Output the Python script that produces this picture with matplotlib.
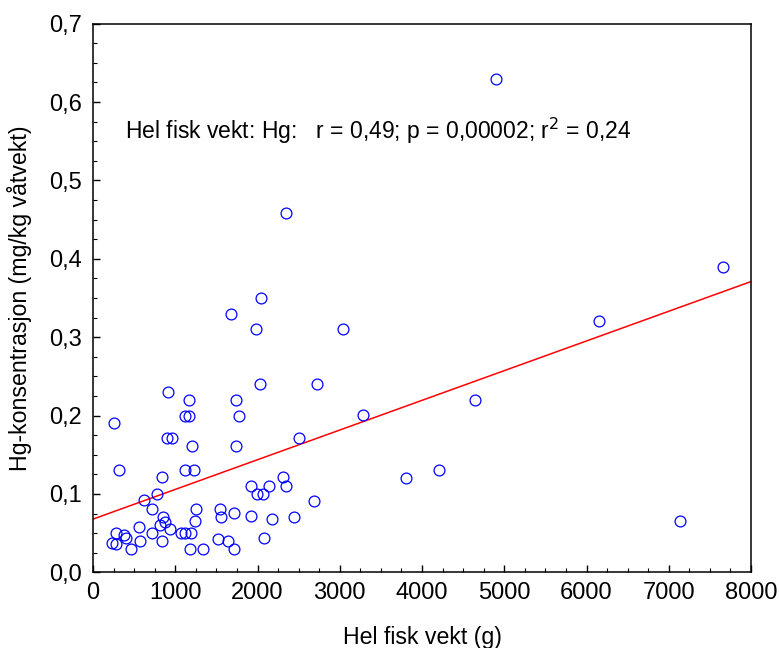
import numpy as np
import matplotlib
matplotlib.use("Agg")
import matplotlib.pyplot as plt
from matplotlib.ticker import FuncFormatter, MultipleLocator

plt.rcParams['font.family'] = ['Liberation Sans', 'DejaVu Sans']

weight_g = [2030, 916, 1171, 1740, 255, 1115, 1171, 1780, 900, 964,
            1200, 1737, 316, 1115, 1224, 835, 1919, 2142, 2306, 2345,
            782, 1996, 2063, 616, 717, 1256, 1542, 1718, 855, 1560,
            1921, 1237, 2180, 875, 555, 818, 940, 280, 381, 405,
            717, 1066, 1122, 1188, 231, 280, 571, 839, 458, 1176,
            1339, 1522, 1645, 1718, 2081, 2039, 1678, 1982, 3043, 2721,
            3284, 2506, 4648, 3805, 4210, 2681, 2444, 4896, 2347, 7660,
            6156, 7137]
hg_conc = [0.240, 0.230, 0.220, 0.220, 0.190, 0.200, 0.200, 0.200, 0.171, 0.171,
           0.161, 0.161, 0.131, 0.131, 0.131, 0.121, 0.110, 0.110, 0.121, 0.110,
           0.0995, 0.0995, 0.0995, 0.092, 0.081, 0.081, 0.081, 0.076, 0.0706, 0.070,
           0.072, 0.066, 0.0676, 0.0646, 0.058, 0.060, 0.0553, 0.0506, 0.047, 0.044,
           0.0506, 0.0506, 0.0506, 0.0506, 0.038, 0.036, 0.040, 0.040, 0.0297, 0.0297,
           0.0297, 0.042, 0.040, 0.0297, 0.0444, 0.350, 0.329, 0.310, 0.310, 0.2407,
           0.2007, 0.1714, 0.220, 0.1207, 0.131, 0.0914, 0.070, 0.630, 0.459, 0.390,
           0.3207, 0.0655]

x_ticks = [0, 1000, 2000, 3000, 4000, 5000, 6000, 7000, 8000]
y_ticks = [0.0, 0.1, 0.2, 0.3, 0.4, 0.5, 0.6, 0.7]
annotation = "Hel fisk vekt: Hg:   r = 0,49; p = 0,00002; r$^2$ = 0,24"
xlabel = "Hel fisk vekt (g)"
ylabel = "Hg-konsentrasjon (mg/kg våtvekt)"

x = np.array(weight_g, dtype=float)
y = np.array(hg_conc, dtype=float)
slope, intercept = np.polyfit(x, y, 1)

fig = plt.figure(figsize=(7.79, 6.48), dpi=100)
ax = fig.add_axes([93/779, 1 - 572.3/648, (751-93)/779, (572.3-23.7)/648])

xl = np.array([0, 8000])
ax.plot(xl, intercept + slope * xl, color='#FF0000', lw=1.1, zorder=2)
ax.plot(x, y, 'o', mfc='none', mec='#0000FF', mew=0.9, ms=7.8, zorder=3, clip_on=False)

ax.set_xlim(0, 8000)
ax.set_ylim(0, 0.7)
ax.set_xticks(x_ticks)
ax.set_yticks(y_ticks)
ax.xaxis.set_minor_locator(MultipleLocator(250))
ax.yaxis.set_minor_locator(MultipleLocator(0.025))
ax.xaxis.set_major_formatter(FuncFormatter(lambda v, p: f"{v:.0f}"))
ax.yaxis.set_major_formatter(FuncFormatter(lambda v, p: f"{v:.1f}".replace('.', ',')))
ax.tick_params(which='major', direction='in', length=5, width=1, labelsize=17, pad=8)
ax.tick_params(which='minor', direction='in', length=3, width=0.8)
ax.tick_params(axis='x', which='major', pad=7)
for s in ax.spines.values():
    s.set_linewidth(1.1)

ax.text(389, 0.553, annotation, fontsize=16.5, ha='left', va='baseline')
ax.set_xlabel(xlabel, fontsize=16.7, labelpad=16)
ax.set_ylabel(ylabel, fontsize=16.7, labelpad=12)

fig.savefig("out.png", dpi=100)
